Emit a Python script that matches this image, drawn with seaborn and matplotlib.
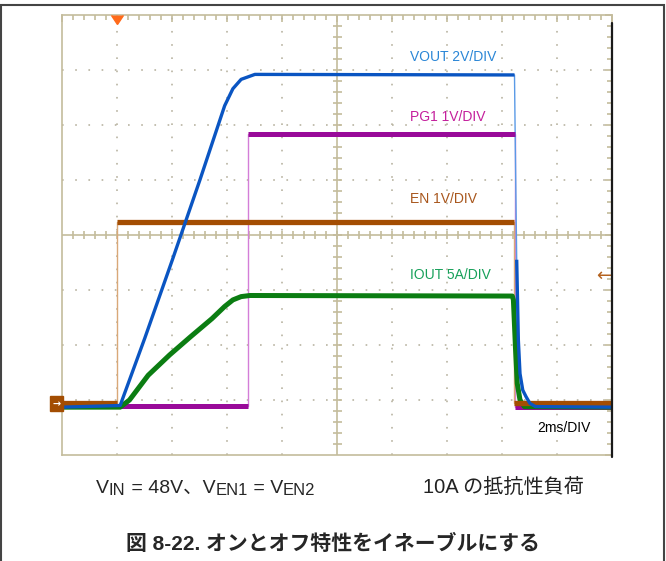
import matplotlib
matplotlib.use("Agg")
import matplotlib.pyplot as plt
import seaborn as sns
import numpy as np
import pandas as pd
from matplotlib.patches import Rectangle

# time in ms (2 ms/div), level in screen divisions above the bottom graticule line
en_t = [0.0, 2.0, 2.0, 16.42, 16.42, 20.0]
en_v = [0.95, 0.95, 4.24, 4.24, 0.95, 0.95]

pg_t = [0.0, 6.74, 6.74, 16.44, 16.44, 20.0]
pg_v = [0.90, 0.90, 5.84, 5.84, 0.88, 0.88]

vout_t = [0.0, 2.1, 3.0, 4.0, 5.0, 5.6, 5.9, 6.2, 6.5, 7.0,
          16.44, 16.46, 16.52, 16.58, 16.64, 16.74, 16.86, 17.0, 17.2, 20.0]
vout_v = [0.87, 0.90, 2.13, 3.55, 5.00, 5.90, 6.35, 6.66, 6.83, 6.92,
          6.91, 6.00, 3.55, 2.09, 1.48, 1.18, 1.06, 0.94, 0.88, 0.87]

iout_t = [0.0, 2.1, 2.44, 3.12, 3.9, 4.66, 5.44, 5.9, 6.2, 6.5, 6.82,
          16.36, 16.40, 16.48, 16.54, 16.64, 16.8, 20.0]
iout_v = [0.87, 0.87, 1.00, 1.45, 1.82, 2.15, 2.48, 2.70, 2.82, 2.88, 2.90,
          2.89, 2.82, 1.90, 1.30, 1.00, 0.88, 0.87]

labels = ["VOUT 2V/DIV", "PG1 1V/DIV", "EN 1V/DIV", "IOUT 5A/DIV"]
label_y = [7.24, 6.15, 4.65, 3.27]

GRID = "#c4bc9c"


def split_steps(t, v, max_slope=30):
    """Break a trace into pieces at its near-vertical edges (drawn thin on a scope)."""
    t = np.asarray(t, float)
    v = np.asarray(v, float)
    slope = np.abs(np.diff(v)) / np.maximum(np.diff(t), 1e-9)
    seg = np.concatenate([[0], np.cumsum(slope > max_slope)])
    return pd.DataFrame({"t": t, "v": v, "seg": seg})


def draw_trace(ax, t, v, color, edge, lw):
    sns.lineplot(x=t, y=v, sort=False, estimator=None, ax=ax, color=edge, linewidth=1.0, zorder=3)
    df = split_steps(t, v)
    sns.lineplot(data=df, x="t", y="v", units="seg", sort=False, estimator=None, ax=ax,
                 color=color, linewidth=lw, zorder=4, solid_capstyle="butt")


sns.set_style("white")
plt.rcParams['font.family'] = ['Liberation Sans', 'Noto Sans CJK JP']

fig = plt.figure(figsize=(6.66, 5.61), dpi=100)
ax = fig.add_axes([62.4 / 666, 106 / 561, 550 / 666, 440 / 561])
ax.set_xlim(0, 20)
ax.set_ylim(0, 8)

# graticule
for x in range(2, 20, 2):
    if x != 10:
        ax.axvline(x, color="#b9b4a2", lw=1.2, ls=(0, (1, 6.92)), zorder=1)
for y in range(1, 8):
    if y != 4:
        ax.axhline(y, color="#b9b4a2", lw=1.2, ls=(0, (1, 6.92)), zorder=1)
ax.axhline(4, color=GRID, lw=1.2, zorder=1)
ax.axvline(10, color=GRID, lw=1.2, zorder=1)
ax.vlines(np.arange(0.4, 20, 0.4), 4 - 0.075, 4 + 0.075, color=GRID, lw=1.2, zorder=1)
ax.hlines(np.arange(0.2, 8, 0.2), 10 - 0.15, 10 + 0.15, color=GRID, lw=1.2, zorder=1)

ax.set_xticks(np.arange(0, 20.1, 2))
ax.set_xticks(np.arange(0, 20.1, 0.4), minor=True)
ax.set_yticks(np.arange(0, 8.1, 1))
ax.set_yticks(np.arange(0, 8.1, 0.2), minor=True)
ax.tick_params(which="both", direction="in", top=True, right=True, color=GRID, width=1.2,
               labelbottom=False, labelleft=False)
ax.tick_params(which="major", length=5)
ax.tick_params(which="minor", length=3.5)
for s in ax.spines.values():
    s.set_color(GRID)
    s.set_linewidth(1.2)

# traces
draw_trace(ax, pg_t, pg_v, "#990a99", "#d47ed8", 3.6)
draw_trace(ax, iout_t, iout_v, "#0b7d12", "#4aa84a", 3.6)
draw_trace(ax, en_t, en_v, "#a34d02", "#d9a878", 3.8)
draw_trace(ax, vout_t, vout_v, "#0a55c2", "#5a9ae6", 2.4)
ax.set_xlabel("")
ax.set_ylabel("")

# channel labels
for txt, y, c in zip(labels, label_y, ["#2a86d6", "#c41f9c", "#a8561c", "#17a05a"]):
    ax.text(12.64, y, txt, color=c, fontsize=10, va="center", ha="left", zorder=6)
ax.text(17.26, 0.49, "2ms/DIV", color="black", fontsize=10, va="center", ha="left", zorder=6)

# scope markers
ax.plot([2.0], [8.0], marker=11, color="#ff6a1a", markersize=9, clip_on=False, zorder=7)
ax.text(-0.08, 0.93, "→", color="white", fontsize=7, fontweight="bold", ha="right", va="center",
        family="DejaVu Sans",
        bbox=dict(boxstyle="square,pad=0.25", fc="#a34d02", ec="#a34d02"), clip_on=False, zorder=7)
ax.text(19.7, 3.25, "←", color="#b4621e", fontsize=13, ha="center", va="center",
        family="DejaVu Sans", zorder=7)
ax.plot([20, 20], [-0.04, 7.85], color="#1a1a1a", lw=1.6, clip_on=False, zorder=8)

# caption lines under the capture
base = 1 - 493 / 561
pieces = [("V", 14, 0), ("IN", 12, -1.5), (" = 48V、V", 14, 0), ("EN1", 12, -1.5),
          (" = V", 14, 0), ("EN2", 12, -1.5)]
prev = fig.text(96 / 666, base, pieces[0][0], fontsize=pieces[0][1], va="baseline", ha="left")
for s, size, dy in pieces[1:]:
    prev = fig.add_artist(plt.Annotation(s, xy=(1, base), xycoords=(prev, "figure fraction"),
                                         xytext=(0, dy), textcoords="offset points",
                                         fontsize=size, va="baseline", ha="left"))
fig.text(423 / 666, base, "10A の抵抗性負荷", fontsize=14.5, va="baseline", ha="left", color="#222222")

fig.text(0.5, 1 - 549.5 / 561, "図 8-22. オンとオフ特性をイネーブルにする", fontsize=15,
         fontweight="bold", ha="center", va="baseline")

# outer frame
fig.add_artist(Rectangle((0.5 / 666, -0.02), 663 / 666, 1.02 - 4.5 / 561, transform=fig.transFigure,
                         fill=False, ec="#444444", lw=1.5))

fig.savefig("out.png", dpi=100)
